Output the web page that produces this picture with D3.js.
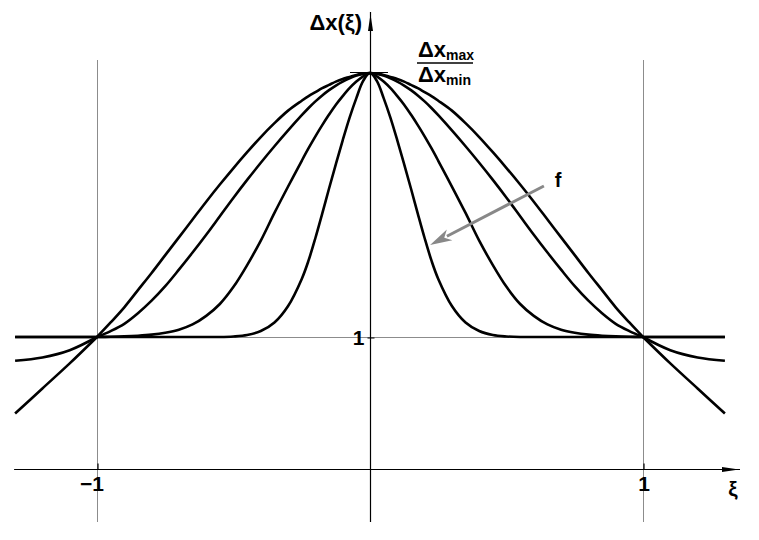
<!DOCTYPE html>
<html>
<head>
<meta charset="utf-8">
<script src="https://cdn.jsdelivr.net/npm/d3@7"></script>
<style>
  html, body { margin: 0; padding: 0; background: #fff; }
  svg { display: block; }
  text { font-family: "Liberation Sans", Arial, sans-serif; font-weight: bold; fill: #000; }
</style>
</head>
<body>
<svg id="chart" width="759" height="540"></svg>
<script>
// ---- data (right half, curves are symmetric in ξ) ----
const xiHalf = [0, 0.025, 0.05, 0.075, 0.1, 0.125, 0.15, 0.175, 0.2, 0.225, 0.25,
                0.3, 0.35, 0.4, 0.45, 0.5, 0.55, 0.6, 0.65, 0.7, 0.75, 0.8, 0.85, 0.9, 0.95, 1.0,
                1.1, 1.2, 1.3];
const curveA = [3.0, 2.995, 2.985, 2.97, 2.955, 2.935, 2.91, 2.885, 2.855, 2.825, 2.79,
                2.715, 2.62, 2.515, 2.40, 2.28, 2.155, 2.025, 1.89, 1.755, 1.62, 1.485, 1.355, 1.225, 1.11, 1.0,
                0.80, 0.61, 0.42];
const curveB = [3.0, 2.995, 2.98, 2.96, 2.935, 2.905, 2.87, 2.83, 2.785, 2.735, 2.68,
                2.565, 2.445, 2.32, 2.19, 2.055, 1.915, 1.775, 1.64, 1.51, 1.385, 1.275, 1.18, 1.10, 1.045, 1.0,
                0.90, 0.845, 0.82];
const curveC = [3.0, 2.975, 2.935, 2.885, 2.825, 2.76, 2.685, 2.605, 2.52, 2.43, 2.335,
                2.14, 1.94, 1.73, 1.545, 1.38, 1.25, 1.16, 1.095, 1.055, 1.032, 1.018, 1.01, 1.005, 1.002, 1.0,
                1.0, 1.0, 1.0];
const curveD = [3.0, 2.94, 2.81, 2.66, 2.49, 2.31, 2.125, 1.935, 1.75, 1.58, 1.44,
                1.235, 1.11, 1.045, 1.015, 1.004, 1.0, 1.0, 1.0, 1.0, 1.0, 1.0, 1.0, 1.0, 1.0, 1.0,
                1.0, 1.0, 1.0];
const curves = [curveA, curveB, curveC, curveD];
const xTicks = [-1, 1];
const xTickLabels = ["\u22121", "1"];
const yTicks = [1];
const yTickLabels = ["1"];
const ratioValue = 3;           // Δx_max / Δx_min
const arrowFrom = {xi: 0.637, v: 2.144};
const arrowTo = {xi: 0.22, v: 1.697};

// ---- scales ----
const svg = d3.select("#chart");
const x = d3.scaleLinear().domain([-1, 1]).range([97, 643]);
const y = d3.scaleLinear().domain([0, 3]).range([469, 73]);

// ---- gridlines ----
const grid = svg.append("g").attr("stroke", "#8c8c8c").attr("stroke-width", 1);
grid.selectAll("line.vx").data(xTicks).join("line")
  .attr("x1", d => x(d) + 0.5).attr("x2", d => x(d) + 0.5)
  .attr("y1", 60).attr("y2", 522);
grid.selectAll("line.hy").data(yTicks).join("line")
  .attr("x1", x(-1.3)).attr("x2", x(1.3))
  .attr("y1", d => y(d) + 0.5).attr("y2", d => y(d) + 0.5);

// ---- axes ----
const axisG = svg.append("g");
axisG.append("line").attr("x1", x(-1.3) - 1).attr("x2", 740)
  .attr("y1", y(0) + 0.5).attr("y2", y(0) + 0.5)
  .attr("stroke", "#000").attr("stroke-width", 1.2);
axisG.append("path").attr("d", `M739,${y(0)+0.5} L722,${y(0)-2} L722,${y(0)+3} Z`).attr("fill", "#000");
axisG.append("line").attr("x1", x(0) + 0.5).attr("x2", x(0) + 0.5)
  .attr("y1", 522).attr("y2", 12)
  .attr("stroke", "#000").attr("stroke-width", 1.2);
axisG.append("path").attr("d", `M${x(0)+0.5},14 L${x(0)-2},31 L${x(0)+3},31 Z`).attr("fill", "#000");

const xAxis = d3.axisBottom(x).tickValues(xTicks)
  .tickFormat((d, i) => xTickLabels[i]).tickSize(-6).tickPadding(7);
const gx = svg.append("g").attr("transform", `translate(0.5,${y(0) + 0.5})`).call(xAxis);
gx.select(".domain").remove();
gx.selectAll(".tick line").attr("stroke", "#000").attr("stroke-width", 1.2);
gx.selectAll(".tick text").style("font-size", "21px").attr("fill", "#000")
  .attr("text-anchor", d => d < 0 ? "end" : "middle")
  .attr("dx", d => d < 0 ? "6" : "0");

const yAxis = d3.axisLeft(y).tickValues(yTicks)
  .tickFormat((d, i) => yTickLabels[i]).tickSize(3).tickPadding(3);
const gy = svg.append("g").attr("transform", `translate(${x(0) + 0.5},0.5)`).call(yAxis);
gy.select(".domain").remove();
gy.selectAll(".tick line").attr("x2", 4).attr("x1", -3).attr("stroke", "#000");
gy.selectAll(".tick text").style("font-size", "21px").attr("fill", "#000");

svg.append("line").attr("x1", x(0) - 20).attr("x2", x(0) + 18)
  .attr("y1", y(ratioValue) - 0.5).attr("y2", y(ratioValue) - 0.5)
  .attr("stroke", "#000").attr("stroke-width", 1);

// ---- curves ----
const line = d3.line().x(d => x(d.xi)).y(d => y(d.v)).curve(d3.curveCatmullRom.alpha(0.5));
function fullCurve(vals) {
  const left = xiHalf.map((xi, i) => ({xi: -xi, v: vals[i]})).reverse();
  const right = xiHalf.map((xi, i) => ({xi: xi, v: vals[i]})).slice(1);
  return left.concat(right);
}
const cg = svg.append("g").attr("fill", "none").attr("stroke", "#000")
  .attr("stroke-width", 2.6).attr("stroke-linejoin", "round");
curves.forEach(vals => {
  const pts = fullCurve(vals);
  const segs = [pts.filter(p => p.xi <= -1), pts.filter(p => p.xi >= -1 && p.xi <= 1), pts.filter(p => p.xi >= 1)];
  segs.forEach(s => cg.append("path").attr("d", line(s)));
});

// ---- arrow f ----
const ax1 = x(arrowFrom.xi), ay1 = y(arrowFrom.v), ax2 = x(arrowTo.xi), ay2 = y(arrowTo.v);
const ang = Math.atan2(ay2 - ay1, ax2 - ax1);
const hl = 22, hw = 6;
const bx = ax2 - hl * Math.cos(ang), by = ay2 - hl * Math.sin(ang);
svg.append("line").attr("x1", ax1).attr("y1", ay1).attr("x2", bx + 3 * Math.cos(ang)).attr("y2", by + 3 * Math.sin(ang))
  .attr("stroke", "#888").attr("stroke-width", 3);
svg.append("path").attr("fill", "#888")
  .attr("d", `M${ax2},${ay2} L${bx - hw * Math.sin(ang)},${by + hw * Math.cos(ang)} L${bx + 6 * Math.cos(ang)},${by + 6 * Math.sin(ang)} L${bx + hw * Math.sin(ang)},${by - hw * Math.cos(ang)} Z`);
svg.append("text").attr("x", 558).attr("y", 187).attr("text-anchor", "middle")
  .style("font-size", "20px").text("f");

// ---- labels ----
svg.append("text").attr("x", x(0) - 8).attr("y", 30).attr("text-anchor", "end")
  .style("font-size", "22px").text("\u0394x(\u03BE)");
svg.append("text").attr("x", 733).attr("y", 496).attr("text-anchor", "middle")
  .style("font-size", "21px").text("\u03BE");

const num = svg.append("text").attr("x", 418).attr("y", 57).style("font-size", "22px");
num.append("tspan").text("\u0394x");
num.append("tspan").attr("dy", 3).style("font-size", "14px").text("max");
svg.append("line").attr("x1", 417).attr("x2", 473).attr("y1", 63).attr("y2", 63)
  .attr("stroke", "#000").attr("stroke-width", 1.5);
const den = svg.append("text").attr("x", 418).attr("y", 82).style("font-size", "22px");
den.append("tspan").text("\u0394x");
den.append("tspan").attr("dy", 3).style("font-size", "14px").text("min");
</script>
</body>
</html>
